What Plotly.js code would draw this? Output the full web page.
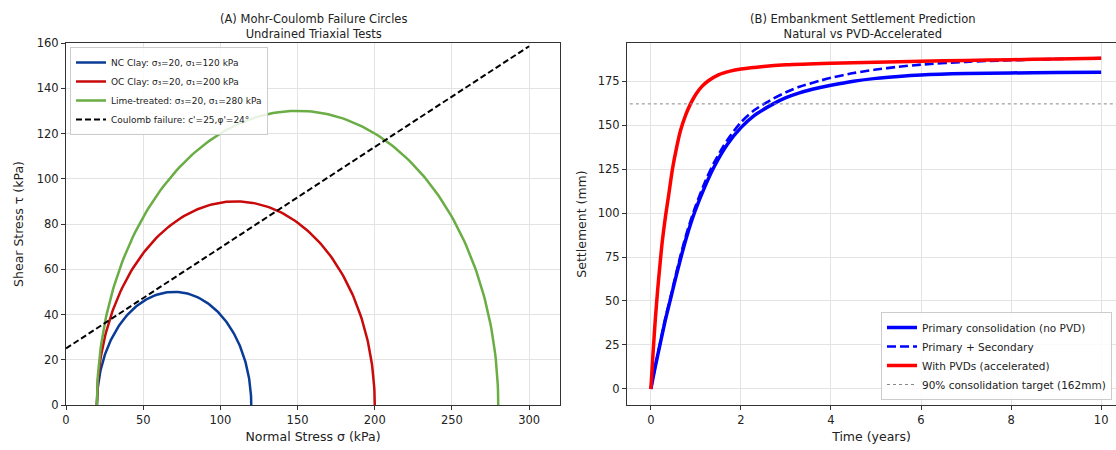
<!DOCTYPE html>
<html><head><meta charset="utf-8">
<script src="https://cdn.plot.ly/plotly-3.0.1.min.js"></script>
<style>body{margin:0;background:#fff}#chart{width:1116px;height:450px}</style>
</head><body><div id="chart"></div>
<script>
// ---- Panel A data: triaxial tests ----
const testNames = ['NC Clay: σ₃=20, σ₁=120 kPa', 'OC Clay: σ₃=20, σ₁=200 kPa', 'Lime-treated: σ₃=20, σ₁=280 kPa'];
const sigma3 = [20, 20, 20];
const sigma1 = [120, 200, 280];
const circleColors = ['#0a3c96', '#c80a0a', '#6aad45'];
const cohesion = 25;      // c' (kPa)
const phiDeg = 24;        // φ' (deg)
const coulombSigma = [0, 300];

// ---- Panel B data: settlement ----
const tPrimary = [0, 0.1, 0.21, 0.32, 0.44, 0.55, 0.66, 0.8, 0.98, 1.2, 1.4, 1.7, 2.0, 2.3, 2.72, 3.0, 3.3, 3.76, 4.0, 4.5, 5.0, 5.5, 6.0, 7.0, 8.0, 9.0, 10.0];
const sPrimary = [0, 13, 26, 39, 51.5, 63, 74, 87, 101, 115, 126, 139, 148.5, 155.5, 162, 165.5, 168.3, 171.3, 172.6, 174.9, 176.5, 177.6, 178.4, 179.2, 179.6, 179.8, 180];
const tSecondary = [0, 0.1, 0.21, 0.32, 0.44, 0.55, 0.66, 0.8, 0.98, 1.2, 1.4, 1.7, 2.0, 2.3, 2.72, 3.0, 3.3, 3.76, 4.0, 4.5, 5.0, 5.5, 6.0, 7.0, 8.0, 9.0, 10.0];
const sSecondary = [0, 13.2, 26.5, 40, 52.5, 64.5, 76, 89, 103, 117.5, 128.5, 141.5, 151.5, 158.5, 165, 168.6, 171.7, 175.2, 176.8, 179.5, 181.5, 183.1, 184.3, 185.9, 186.8, 187.5, 188];
const tPVD = [0, 0.05, 0.1, 0.15, 0.2, 0.25, 0.33, 0.4, 0.48, 0.57, 0.66, 0.77, 0.88, 1.0, 1.13, 1.27, 1.5, 1.76, 2.0, 2.5, 3.0, 4.0, 5.0, 6.0, 7.0, 8.0, 9.0, 10.0];
const sPVD = [0, 21, 40, 56, 70, 83, 99, 111, 125, 137, 147, 155.5, 162, 167.5, 171.8, 175, 178.5, 180.6, 181.8, 183.3, 184.2, 185.1, 185.7, 186.2, 186.7, 187.1, 187.5, 187.9];
const targetSettlement = 162;

const traces = [];
// Mohr circles (upper halves) built from σ3, σ1
for (let i = 0; i < sigma3.length; i++) {
  const c = (sigma1[i] + sigma3[i]) / 2, r = (sigma1[i] - sigma3[i]) / 2;
  const xs = [], ys = [];
  for (let k = 0; k <= 180; k++) {
    const a = Math.PI * k / 180;
    xs.push(c - r * Math.cos(a)); ys.push(r * Math.sin(a));
  }
  traces.push({x: xs, y: ys, mode: 'lines', name: testNames[i], xaxis: 'x', yaxis: 'y',
    line: {color: circleColors[i], width: 2.5}, legend: 'legend'});
}
const tanPhi = Math.tan(phiDeg * Math.PI / 180);
traces.push({x: coulombSigma, y: coulombSigma.map(s => cohesion + s * tanPhi), mode: 'lines',
  name: "Coulomb failure: c'=25,φ'=24°", xaxis: 'x', yaxis: 'y',
  line: {color: '#000', width: 2, dash: '6px,3px'}, legend: 'legend'});

traces.push({x: tPrimary, y: sPrimary, mode: 'lines', name: 'Primary consolidation (no PVD)',
  xaxis: 'x2', yaxis: 'y2', line: {color: '#0000ff', width: 3.5, shape: 'spline', smoothing: 0.8}, legend: 'legend2'});
traces.push({x: tSecondary, y: sSecondary, mode: 'lines', name: 'Primary + Secondary',
  xaxis: 'x2', yaxis: 'y2', line: {color: '#0000ff', width: 2.6, dash: '9px,4px', shape: 'spline', smoothing: 0.8}, legend: 'legend2'});
traces.push({x: tPVD, y: sPVD, mode: 'lines', name: 'With PVDs (accelerated)',
  xaxis: 'x2', yaxis: 'y2', line: {color: '#ff0000', width: 3.5, shape: 'spline', smoothing: 0.8}, legend: 'legend2'});
traces.push({x: [-1, 11], y: [targetSettlement, targetSettlement], mode: 'lines',
  name: '90% consolidation target (' + targetSettlement + 'mm)',
  xaxis: 'x2', yaxis: 'y2', line: {color: '#888', width: 1, dash: 'dot'}, legend: 'legend2'});

const font = {family: 'DejaVu Sans, sans-serif', color: '#222'};
const gridc = '#e3e3e3';
const axBase = {showline: true, linecolor: '#333', linewidth: 1, ticks: 'outside', ticklen: 4,
  tickcolor: '#333', gridcolor: gridc, gridwidth: 1, zeroline: false,
  tickfont: {family: font.family, size: 11.5, color: '#222'}};

const yDom = [1 - 405 / 450, 1 - 43 / 450];
const layout = {
  width: 1116, height: 450, margin: {l: 0, r: 0, t: 0, b: 0},
  paper_bgcolor: '#fff', plot_bgcolor: '#fff', font: font, showlegend: true,
  xaxis: Object.assign({}, axBase, {domain: [66 / 1116, 560 / 1116], range: [0, 320], dtick: 50, mirror: true,
    title: {text: 'Normal Stress σ (kPa)', font: {size: 12.5}, standoff: 6}}),
  yaxis: Object.assign({}, axBase, {domain: yDom, range: [0, 160], dtick: 20, mirror: true,
    title: {text: 'Shear Stress τ (kPa)', font: {size: 12.5}, standoff: 10}}),
  xaxis2: Object.assign({}, axBase, {anchor: 'y2', domain: [627 / 1116, 1], range: [-0.53, 10.33], dtick: 2, mirror: true,
    title: {text: 'Time (years)', font: {size: 12.5}, standoff: 6}}),
  yaxis2: Object.assign({}, axBase, {anchor: 'x2', domain: yDom, range: [-9.1, 196.6], dtick: 25,
    title: {text: 'Settlement (mm)', font: {size: 12.5}, standoff: 8}}),
  legend: {x: 70 / 1116, y: 1 - 47 / 450, xanchor: 'left', yanchor: 'top', bgcolor: 'rgba(255,255,255,0.85)',
    bordercolor: '#ccc', borderwidth: 1, font: {size: 9, family: font.family, color: '#222'},
    tracegroupgap: 0, itemwidth: 30},
  legend2: {x: 1112 / 1116, y: 1 - 400 / 450, xanchor: 'right', yanchor: 'bottom', bgcolor: 'rgba(255,255,255,0.85)',
    bordercolor: '#ccc', borderwidth: 1, font: {size: 10.5, family: font.family, color: '#222'},
    tracegroupgap: 0, itemwidth: 30},
  annotations: [
    {text: '(A) Mohr-Coulomb Failure Circles<br>Undrained Triaxial Tests', x: 313 / 1116, y: 1 - 10 / 450,
      xref: 'paper', yref: 'paper', xanchor: 'center', yanchor: 'top', showarrow: false,
      font: {size: 11.5, family: font.family, color: '#222'}},
    {text: '(B) Embankment Settlement Prediction<br>Natural vs PVD-Accelerated', x: 863 / 1116, y: 1 - 10 / 450,
      xref: 'paper', yref: 'paper', xanchor: 'center', yanchor: 'top', showarrow: false,
      font: {size: 11.5, family: font.family, color: '#222'}}
  ]
};
Plotly.newPlot('chart', traces, layout, {displayModeBar: false, staticPlot: true});
</script></body></html>
